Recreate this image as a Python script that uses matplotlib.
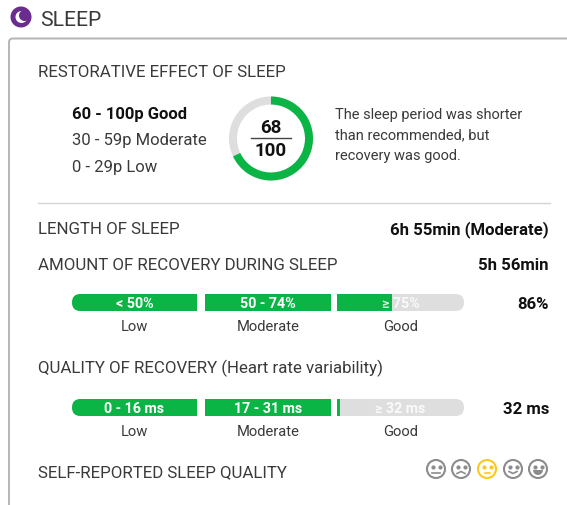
import matplotlib
matplotlib.use('Agg')
import matplotlib.pyplot as plt
from matplotlib.patches import Circle, FancyBboxPatch, Rectangle, Wedge

score = 68
score_max = 100
score_ranges = ['60 - 100p Good', '30 - 59p Moderate', '0 - 29p Low']
score_note = ['The sleep period was shorter', 'than recommended, but', 'recovery was good.']

zone_names = ['Low', 'Moderate', 'Good']
recovery_zones = ['< 50%', '50 - 74%', '≥ 75%']
recovery_fill = [1.0, 1.0, 0.43]
recovery_value = '86%'
hrv_zones = ['0 - 16 ms', '17 - 31 ms', '≥ 32 ms']
hrv_fill = [1.0, 1.0, 0.02]
hrv_value = '32 ms'

sleep_length = '6h 55min (Moderate)'
recovery_time = '5h 56min'
mood_selected = 2

GREEN = '#0bb545'
GREY = '#dedede'
TEXT = '#3a3a3a'
DARK = '#111111'

plt.rcParams['font.family'] = ['Roboto', 'DejaVu Sans']

fig = plt.figure(figsize=(5.67, 5.06), dpi=100)
ax = fig.add_axes([0, 0, 1, 1])
ax.set_xlim(0, 567)
ax.set_ylim(506, 0)
ax.axis('off')

# header and card outline
ax.add_patch(Circle((21, 18), 10.5, color='#6a2c8e', lw=0))
ax.add_patch(Circle((21.5, 18), 6, color='white', lw=0))
ax.add_patch(Circle((24.5, 16.5), 5.5, color='#6a2c8e', lw=0))
ax.text(40, 20.5, 'SLEEP', fontsize=15.2, color=TEXT, va='center')
ax.add_patch(FancyBboxPatch((9, 39.5), 600, 500, boxstyle='round,pad=0,rounding_size=4',
                            fc='white', ec='#b5b5b5', lw=1.4))

# restorative effect
ax.text(38, 72, 'RESTORATIVE EFFECT OF SLEEP', fontsize=12.2, color=TEXT, va='center')
for i, label in enumerate(score_ranges):
    ax.text(72, 114 + i * 26.5, label, fontsize=12, va='center',
            color=DARK if i == 0 else TEXT, fontweight='bold' if i == 0 else 'normal')

# y axis is inverted, so angles run clockwise from 270 (top)
ring_end = 270 + 360 * score / score_max
ax.add_patch(Wedge((271, 139.5), 42, 0, 360, width=8, color=GREY, lw=0))
ax.add_patch(Wedge((271, 139.5), 42, 270, ring_end, width=8, color=GREEN, lw=0))
ax.text(271, 127.5, str(score), fontsize=13.5, fontweight='bold', color=DARK, ha='center', va='center')
ax.plot([251, 291], [139, 139], color='#444444', lw=1)
ax.text(271, 151, str(score_max), fontsize=13.5, fontweight='bold', color=DARK, ha='center', va='center')
for i, line in enumerate(score_note):
    ax.text(335, 115 + i * 20.7, line, fontsize=10.5, color=TEXT, va='center')

ax.plot([38, 550], [203.5, 203.5], color='#d5d5d5', lw=1)

# rows
ax.text(38, 230, 'LENGTH OF SLEEP', fontsize=12.2, color=TEXT, va='center')
ax.text(549, 230, sleep_length, fontsize=12.1, fontweight='bold', color=DARK, ha='right', va='center')
ax.text(38, 266, 'AMOUNT OF RECOVERY DURING SLEEP', fontsize=12.2, color=TEXT, va='center')
ax.text(549, 266, recovery_time, fontsize=12.1, fontweight='bold', color=DARK, ha='right', va='center')
ax.text(38, 368, 'QUALITY OF RECOVERY (Heart rate variability)', fontsize=12.2, color=TEXT, va='center')
ax.text(38, 473, 'SELF-REPORTED SLEEP QUALITY', fontsize=12.2, color=TEXT, va='center')


def zone_bar(y, zones, fill, value):
    seg_x = [72, 205, 337]
    seg_w = [125, 126, 127]
    clip = FancyBboxPatch((72, y), 392, 17, boxstyle='round,pad=0,rounding_size=8.5',
                          fc='none', ec='none')
    ax.add_patch(clip)
    for i, zone in enumerate(zones):
        grey = Rectangle((seg_x[i], y), seg_w[i], 17, fc=GREY, lw=0)
        green = Rectangle((seg_x[i], y), seg_w[i] * fill[i], 17, fc=GREEN, lw=0)
        ax.add_patch(grey)
        ax.add_patch(green)
        grey.set_clip_path(clip)
        green.set_clip_path(clip)
        ax.text(seg_x[i] + seg_w[i] / 2, y + 9, zone, fontsize=10.3, fontweight='bold',
                color='white', ha='center', va='center', alpha=1 if fill[i] > 0.5 else 0.85)
        ax.text(seg_x[i] + seg_w[i] / 2, y + 32, zone_names[i], fontsize=10.6,
                color=TEXT, ha='center', va='center')
    ax.text(549, y + 9.5, value, fontsize=12.1, fontweight='bold', color=DARK, ha='right', va='center')


zone_bar(295, recovery_zones, recovery_fill, recovery_value)
zone_bar(400, hrv_zones, hrv_fill, hrv_value)

# mood faces, worst to best
for i, x in enumerate([436, 461, 487, 513, 538]):
    col = '#fdc91a' if i == mood_selected else '#8c8c8c'
    y = 470
    ax.add_patch(Circle((x, y), 9, fc='white', ec=col, lw=1.5))
    ax.plot([x - 3.5, x + 3.5], [y - 2.5, y - 2.5], ls='none', marker='o', ms=2, color=col)
    if i == 0:
        ax.plot([x - 4, x + 4], [y + 3.5, y + 3.5], color=col, lw=1.2)
    elif i == 1:
        ax.plot([x - 4, x, x + 4], [y + 4.5, y + 2.5, y + 4.5], color=col, lw=1.2)
    elif i == 2:
        ax.plot([x - 2.5, x + 2.5], [y + 3.5, y + 3.5], color=col, lw=1.2)
    elif i == 3:
        ax.plot([x - 4, x, x + 4], [y + 2.5, y + 4.5, y + 2.5], color=col, lw=1.2)
    else:
        ax.add_patch(Wedge((x, y + 1), 5, 0, 180, color=col, lw=0))

fig.savefig('out.png', dpi=100)
